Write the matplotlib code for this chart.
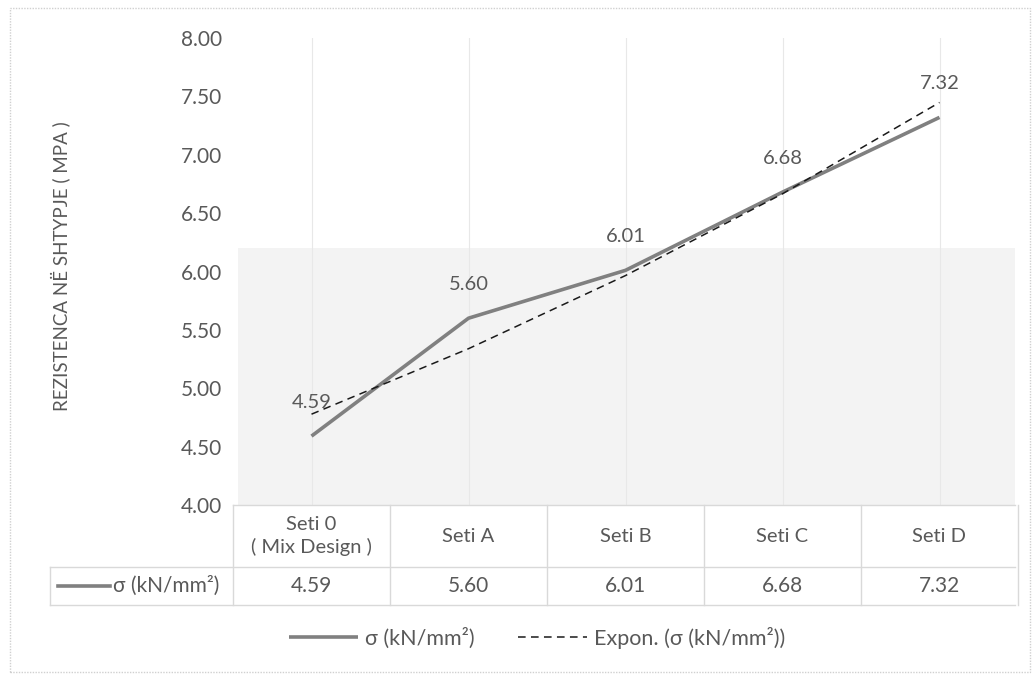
import numpy as np
import matplotlib
matplotlib.use("Agg")
import matplotlib.pyplot as plt
from matplotlib.lines import Line2D
from matplotlib.patches import Rectangle
import matplotlib.transforms as mtransforms

# strength of each concrete set
categories = ["Seti 0\n( Mix Design )", "Seti A", "Seti B", "Seti C", "Seti D"]
sigma = [4.59, 5.60, 6.01, 6.68, 7.32]
y_ticks = [4.00, 4.50, 5.00, 5.50, 6.00, 6.50, 7.00, 7.50, 8.00]
series_name = "σ (kN/mm²)"
trend_name = "Expon. (σ (kN/mm²))"
y_title = "REZISTENCA NË SHTYPJE ( MPA )"

plt.rcParams['font.family'] = ['Lato', 'DejaVu Sans']
txt = '#595959'
grid = '#d9d9d9'
W, H = 1035, 678
fs = 15

def fx(px):
    return px / W

def fy(py):
    return 1 - py / H

fig = plt.figure(figsize=(10.35, 6.78), dpi=100)
ax = fig.add_axes([fx(233), fy(505), fx(1018) - fx(233), fy(38) - fy(505)])

x = np.arange(len(sigma))
# exponential trendline, least squares on log values (x counted from 1 like Excel)
b, a = np.polyfit(x + 1, np.log(sigma), 1)
trend = np.exp(a + b * (x + 1))

# faint grey band across the lower plot area
ax.add_patch(Rectangle((0.006, 0), 0.99, 0.55, transform=ax.transAxes,
                       color='#f3f3f3', zorder=0, lw=0))

for xi in x:
    ax.axvline(xi, color='#e8e8e8', lw=0.8, zorder=1)

l1, = ax.plot(x, sigma, color='#808080', lw=2.6, zorder=3, solid_capstyle='butt')
l2, = ax.plot(x, trend, color='#1a1a1a', lw=1.1, ls=(0, (5, 3.5)), zorder=4)

for xi, v in zip(x, sigma):
    ax.annotate(f"{v:.2f}", (xi, v), xytext=(0, 18), textcoords='offset points',
                ha='center', va='bottom', fontsize=fs - 0.5, color=txt)

ax.set_xlim(-0.5, len(sigma) - 0.5)
ax.set_ylim(4, 8)
ax.set_yticks(y_ticks)
ax.set_yticklabels([f"{t:.2f}" for t in y_ticks], fontsize=fs, color=txt)
ax.tick_params(axis='y', length=0, pad=8)
ax.set_xticks([])
for s in ax.spines.values():
    s.set_visible(False)
ax.patch.set_alpha(0)

fig.text(fx(60), fy(266), y_title, rotation=90, ha='center', va='center',
         fontsize=13.5, color=txt)

# data table under the plot
trans = mtransforms.blended_transform_factory(ax.transData, fig.transFigure)
row_top, row_mid, row_bot = fy(505), fy(567), fy(605)
left_px, right_px = 50, 1015
fig.add_artist(Line2D([fx(233), fx(right_px)], [row_top, row_top], color=grid, lw=1))
fig.add_artist(Line2D([fx(left_px), fx(right_px)], [row_mid, row_mid], color=grid, lw=1))
fig.add_artist(Line2D([fx(left_px), fx(right_px)], [row_bot, row_bot], color=grid, lw=1))
fig.add_artist(Line2D([fx(left_px), fx(left_px)], [row_mid, row_bot], color=grid, lw=1))
for xb in np.arange(len(sigma) + 1) - 0.5:
    fig.add_artist(Line2D([xb, xb], [row_top, row_bot], transform=trans, color=grid, lw=1))

for xi, cat, v in zip(x, categories, sigma):
    fig.text(xi, (row_top + row_mid) / 2, cat, transform=trans, ha='center',
             va='center', fontsize=fs - 0.5, color=txt, linespacing=1.3)
    fig.text(xi, (row_mid + row_bot) / 2, f"{v:.2f}", transform=trans,
             ha='center', va='center', fontsize=fs, color=txt)

ymid = (row_mid + row_bot) / 2
fig.add_artist(Line2D([fx(58), fx(110)], [ymid, ymid], color='#808080', lw=2.6))
fig.text(fx(113), ymid, series_name, ha='left', va='center', fontsize=fs, color=txt)

fig.legend([l1, l2], [series_name, trend_name], loc='center',
           bbox_to_anchor=(fx(537), fy(638)), ncol=2, frameon=False,
           fontsize=15.5, labelcolor=txt, handlelength=3.2, handletextpad=0.35,
           columnspacing=2.0)

fig.add_artist(Rectangle((fx(10), fy(672)), fx(1030) - fx(10), fy(8) - fy(672),
                         fill=False, ec='#d0d0d0', lw=1, ls=(0, (1, 1))))

fig.savefig("out.png", dpi=100, facecolor='white')
